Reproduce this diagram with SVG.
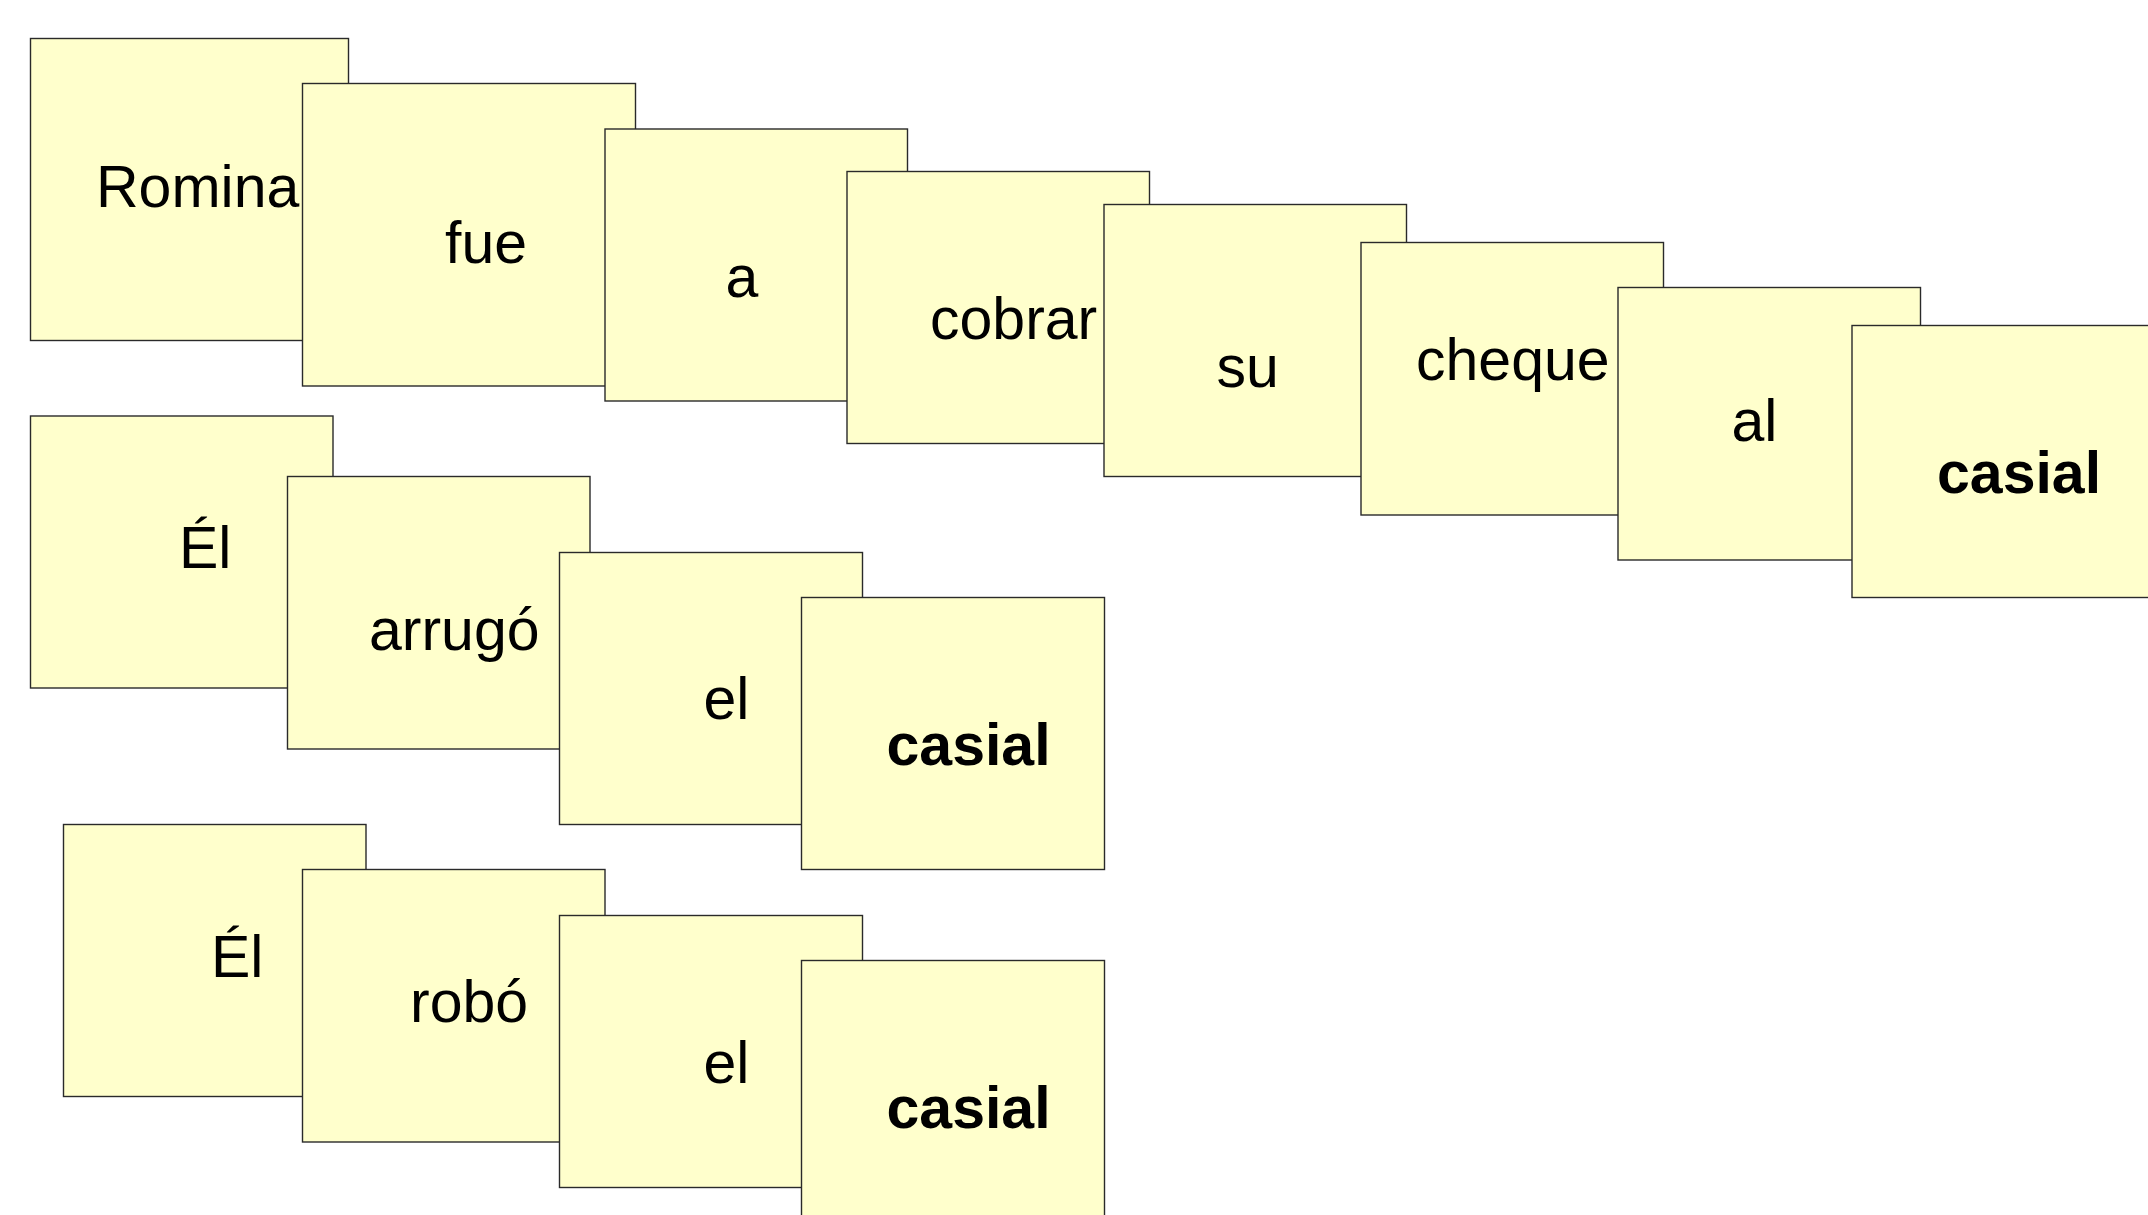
<svg xmlns="http://www.w3.org/2000/svg" width="2148" height="1215" viewBox="0 0 2148 1215">
<style>
.b{fill:#FFFFCC;stroke:#2a2a2a;stroke-width:1.4}
.t{font-family:"Liberation Sans",Arial,sans-serif;font-size:59px;fill:#000}
.k{font-family:"Liberation Sans",Arial,sans-serif;font-size:59px;font-weight:bold;fill:#000}
</style>
<rect width="2148" height="1215" fill="#FFFFFF"/>
<g id="n1"><rect class="b" x="30.5" y="38.5" width="318" height="302"/><text class="t" x="96" y="207">Romina</text></g>
<g id="n2"><rect class="b" x="302.5" y="83.5" width="333" height="302.5"/><text class="t" x="445" y="263">fue</text></g>
<g id="n3"><rect class="b" x="605" y="129" width="302.5" height="272"/><text class="t" x="725.5" y="297">a</text></g>
<g id="n4"><rect class="b" x="847" y="171.5" width="302.5" height="272"/><text class="t" x="930" y="339">cobrar</text></g>
<g id="n5"><rect class="b" x="1104" y="204.5" width="302.5" height="272"/><text class="t" x="1216.5" y="387">su</text></g>
<g id="n6"><rect class="b" x="1361" y="242.5" width="302.5" height="272.5"/><text class="t" x="1416" y="380">cheque</text></g>
<g id="n7"><rect class="b" x="1618" y="287.5" width="302.5" height="272.5"/><text class="t" x="1731.5" y="441">al</text></g>
<g id="n8"><rect class="b" x="1852" y="325.5" width="302.5" height="272"/><text class="k" x="1937" y="493">casial</text></g>
<g id="n9"><rect class="b" x="30.5" y="416" width="302.5" height="272"/><text class="t" x="179" y="568">Él</text></g>
<g id="n10"><rect class="b" x="287.5" y="476.5" width="302.5" height="272.5"/><text class="t" x="369" y="650">arrugó</text></g>
<g id="n11"><rect class="b" x="559.5" y="552.5" width="303" height="272"/><text class="t" x="703.5" y="719">el</text></g>
<g id="n12"><rect class="b" x="801.5" y="597.5" width="303" height="272"/><text class="k" x="886.5" y="765">casial</text></g>
<g id="n13"><rect class="b" x="63.5" y="824.5" width="302.5" height="272"/><text class="t" x="211" y="977">Él</text></g>
<g id="n14"><rect class="b" x="302.5" y="869.5" width="302.5" height="272.5"/><text class="t" x="410" y="1022">robó</text></g>
<g id="n15"><rect class="b" x="559.5" y="915.5" width="303" height="272"/><text class="t" x="703.5" y="1083">el</text></g>
<g id="n16"><rect class="b" x="801.5" y="960.5" width="303" height="272"/><text class="k" x="886.5" y="1128">casial</text></g>
<g id="connectors"></g>
</svg>
